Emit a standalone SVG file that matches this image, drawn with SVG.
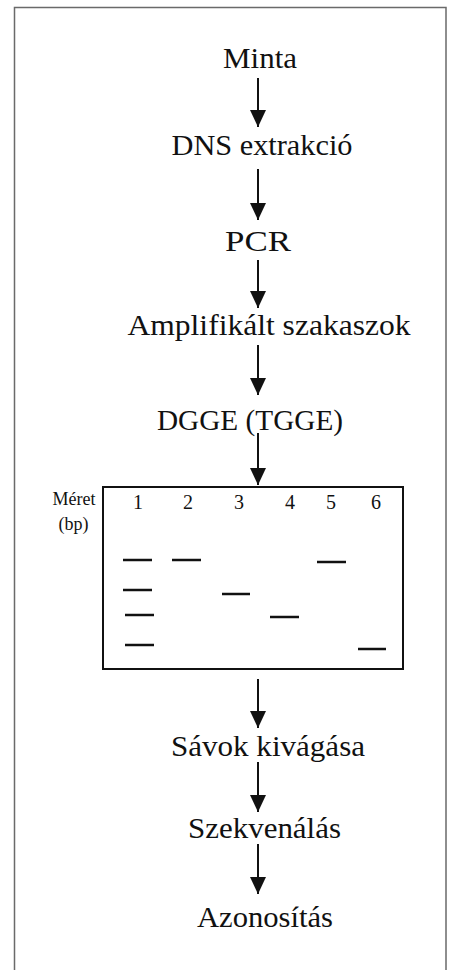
<svg xmlns="http://www.w3.org/2000/svg" width="452" height="970" viewBox="0 0 452 970">
<style>
text{font-family:'Liberation Serif',serif;fill:#111;text-anchor:middle}
.lbl{font-size:30px}
.num{font-size:20px}
.sm{font-size:18px}
.conn line{stroke:#111;stroke-width:2}
.band{stroke:#111;stroke-width:2.5}
</style>
<defs>
<marker id="ah" viewBox="0 0 17 16" refX="17" refY="8" markerWidth="17" markerHeight="16" markerUnits="userSpaceOnUse" orient="auto">
<path d="M0,0 L17,8 L0,16 Z" fill="#111"/>
</marker>
</defs>
<rect x="0" y="0" width="452" height="970" fill="#fff"/>
<path d="M14.5,980 L14.5,7.5 L446,7.5 L446,980" fill="none" stroke="#6a6a6a" stroke-width="1.5"/>
<g id="minta"><text class="lbl" x="260" y="68" textLength="74" lengthAdjust="spacingAndGlyphs">Minta</text></g>
<g id="dns"><text class="lbl" x="262" y="155" textLength="181" lengthAdjust="spacingAndGlyphs">DNS extrakció</text></g>
<g id="pcr"><text class="lbl" x="258" y="251" textLength="66" lengthAdjust="spacingAndGlyphs">PCR</text></g>
<g id="ampl"><text class="lbl" x="269" y="335" textLength="283" lengthAdjust="spacingAndGlyphs">Amplifikált szakaszok</text></g>
<g id="dgge"><text class="lbl" x="250" y="430" textLength="186" lengthAdjust="spacingAndGlyphs">DGGE (TGGE)</text></g>
<g id="gel">
<rect x="103" y="487" width="300" height="182" fill="none" stroke="#111" stroke-width="2"/>
<text class="sm" x="74" y="505">Méret</text>
<text class="sm" x="73.5" y="530">(bp)</text>
<text class="num" x="138" y="509">1</text>
<text class="num" x="188" y="509">2</text>
<text class="num" x="239" y="509">3</text>
<text class="num" x="290" y="509">4</text>
<text class="num" x="331" y="509">5</text>
<text class="num" x="376" y="509">6</text>
<line class="band" x1="123" y1="560" x2="152" y2="560"/>
<line class="band" x1="123" y1="590" x2="152" y2="590"/>
<line class="band" x1="125" y1="615" x2="154" y2="615"/>
<line class="band" x1="125" y1="645" x2="154" y2="645"/>
<line class="band" x1="172" y1="560" x2="201" y2="560"/>
<line class="band" x1="222" y1="594" x2="250" y2="594"/>
<line class="band" x1="270" y1="617" x2="299" y2="617"/>
<line class="band" x1="317" y1="562" x2="346" y2="562"/>
<line class="band" x1="358" y1="649" x2="386" y2="649"/>
</g>
<g id="savok"><text class="lbl" x="268" y="756" textLength="194" lengthAdjust="spacingAndGlyphs">Sávok kivágása</text></g>
<g id="szekv"><text class="lbl" x="264.5" y="838" textLength="153" lengthAdjust="spacingAndGlyphs">Szekvenálás</text></g>
<g id="azon"><text class="lbl" x="265" y="927" textLength="136" lengthAdjust="spacingAndGlyphs">Azonosítás</text></g>
<g class="conn" id="connectors">
<line x1="258" y1="78" x2="258" y2="127" marker-end="url(#ah)"/>
<line x1="258" y1="169" x2="258" y2="220" marker-end="url(#ah)"/>
<line x1="258" y1="260" x2="258" y2="308" marker-end="url(#ah)"/>
<line x1="258" y1="345" x2="258" y2="395" marker-end="url(#ah)"/>
<line x1="258" y1="433" x2="258" y2="485" marker-end="url(#ah)"/>
<line x1="258" y1="679" x2="258" y2="728" marker-end="url(#ah)"/>
<line x1="258" y1="762" x2="258" y2="812" marker-end="url(#ah)"/>
<line x1="258" y1="844" x2="258" y2="894" marker-end="url(#ah)"/>
</g>
</svg>
